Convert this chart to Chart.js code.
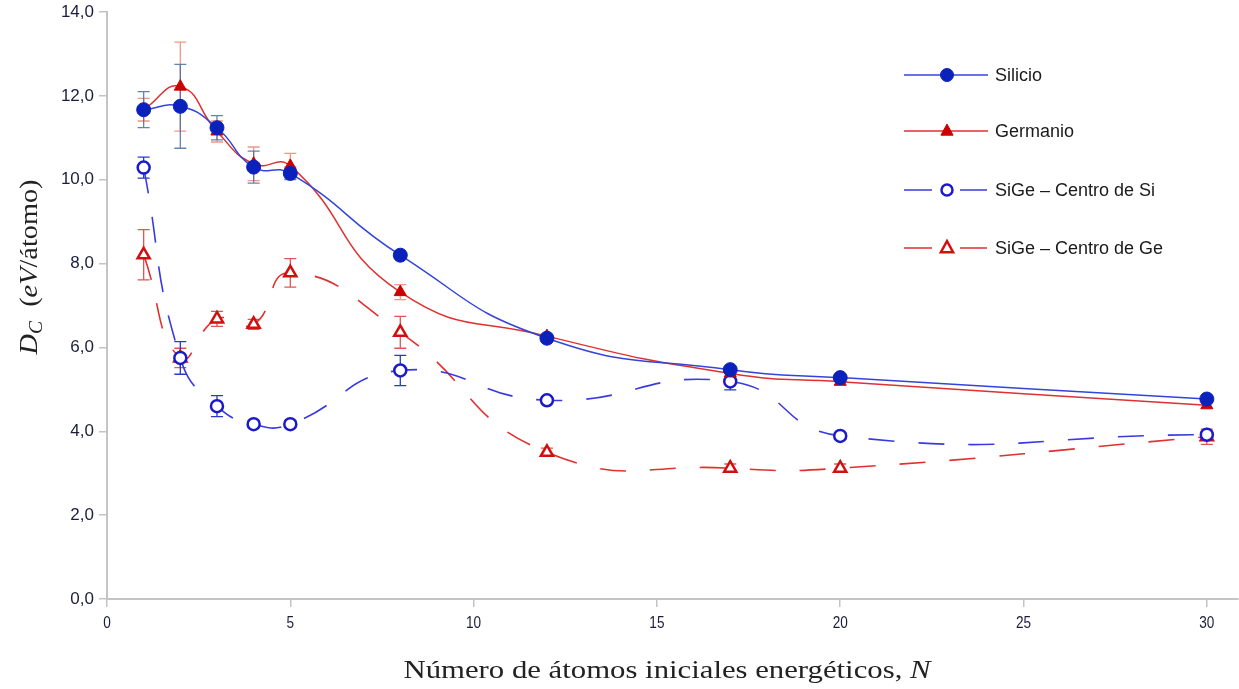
<!DOCTYPE html>
<html>
<head>
<meta charset="utf-8">
<script src="https://cdn.jsdelivr.net/npm/chart.js@4"></script>
<style>
  html, body { margin: 0; padding: 0; background: #fff; }
  #wrap { width: 1239px; height: 689px; position: relative; }
</style>
</head>
<body>
<div id="wrap"><canvas id="dcChart"></canvas></div>
<script>
// Número de átomos iniciales energéticos
const nAtoms = [1, 2, 3, 4, 5, 8, 12, 17, 20, 30];

// D_C (eV/átomo) por serie
const silicio   = [11.67, 11.75, 11.24, 10.30, 10.15, 8.20, 6.22, 5.47, 5.28, 4.77];
const germanio  = [11.67, 12.22, 11.15, 10.38, 10.33, 7.32, 6.27, 5.38, 5.18, 4.62];
const sigeSi    = [10.29, 5.75, 4.60, 4.17, 4.17, 5.45, 4.74, 5.19, 3.89, 3.92];
const sigeGe    = [8.21, 5.75, 6.68, 6.55, 7.78, 6.36, 3.50, 3.12, 3.12, 3.87];

// barras de error (±)
const errSilicio  = [0.43, 1.00, 0.29, 0.38, 0.15, 0, 0, 0, 0, 0];
const errGermanio = [0.27, 1.06, 0.25, 0.40, 0.30, 0.18, 0, 0, 0, 0];
const errSigeSi   = [0.25, 0.39, 0.25, 0.08, 0.08, 0.36, 0.08, 0.20, 0.08, 0.08];
const errSigeGe   = [0.60, 0.23, 0.18, 0.12, 0.34, 0.38, 0.10, 0.10, 0.10, 0.18];

const seriesLabels = ['Silicio', 'Germanio', 'SiGe \u2013 Centro de Si', 'SiGe \u2013 Centro de Ge'];

const xTicks = [0, 5, 10, 15, 20, 25, 30];
const yTicks = [0, 2, 4, 6, 8, 10, 12, 14];

const toPoints = arr => arr.map((v, i) => ({ x: nAtoms[i], y: v }));

const SANS  = "'Liberation Sans', Arial, sans-serif";
const SERIF = "'Liberation Serif', 'DejaVu Serif', serif";
const TICK_COLOR = '#1c1c3c';

const DASH = [26, 24];
const CURVE = 0.5;

const datasets = [
  {
    label: seriesLabels[0], data: toPoints(silicio), errors: errSilicio, errColor: 'rgba(70,110,165,0.85)',
    borderColor: '#3344dd', borderWidth: 1.5, tension: CURVE,
    pointStyle: 'circle', pointRadius: 7, pointBackgroundColor: '#0a22bb', pointBorderColor: '#0a22bb', pointBorderWidth: 1,
    legendDash: []
  },
  {
    label: seriesLabels[1], data: toPoints(germanio), errors: errGermanio, errColor: 'rgba(240,140,120,0.9)',
    borderColor: '#e03030', borderWidth: 1.5, tension: CURVE,
    pointStyle: 'triangle', pointRadius: 7, pointBackgroundColor: '#cc0000', pointBorderColor: '#cc0000', pointBorderWidth: 1,
    legendDash: []
  },
  {
    label: seriesLabels[2], data: toPoints(sigeSi), errors: errSigeSi, errColor: '#2a3acc',
    borderColor: '#3a3ae0', borderWidth: 1.6, borderDash: DASH, tension: CURVE,
    pointStyle: 'circle', pointRadius: 6, pointBackgroundColor: '#ffffff', pointBorderColor: '#1a1acc', pointBorderWidth: 2.5,
    legendDash: DASH
  },
  {
    label: seriesLabels[3], data: toPoints(sigeGe), errors: errSigeGe, errColor: '#e05555',
    borderColor: '#e03030', borderWidth: 1.6, borderDash: DASH, tension: CURVE,
    pointStyle: 'triangle', pointRadius: 7, pointBackgroundColor: '#ffffff', pointBorderColor: '#d01010', pointBorderWidth: 2.5,
    legendDash: DASH
  }
];

// barras de error bajo los marcadores
const errorBars = {
  id: 'errorBars',
  beforeDatasetsDraw(chart) {
    const { ctx, scales: { x, y } } = chart;
    ctx.save();
    ctx.lineWidth = 1.3;
    for (let d = chart.data.datasets.length - 1; d >= 0; d--) {
      const ds = chart.data.datasets[d];
      ctx.strokeStyle = ds.errColor;
      ds.data.forEach((p, i) => {
        const e = ds.errors[i];
        if (!e) return;
        const px = x.getPixelForValue(p.x);
        const top = y.getPixelForValue(p.y + e);
        const bot = y.getPixelForValue(p.y - e);
        ctx.beginPath();
        ctx.moveTo(px, top); ctx.lineTo(px, bot);
        ctx.moveTo(px - 6, top); ctx.lineTo(px + 6, top);
        ctx.moveTo(px - 6, bot); ctx.lineTo(px + 6, bot);
        ctx.stroke();
      });
    }
    ctx.restore();
  }
};

// etiquetas del eje x en letra estrecha
const narrowXLabels = {
  id: 'narrowXLabels',
  afterDraw(chart) {
    const { ctx, scales: { x } } = chart;
    ctx.save();
    ctx.fillStyle = TICK_COLOR;
    ctx.font = '17px ' + SANS;
    ctx.textAlign = 'center';
    ctx.textBaseline = 'top';
    xTicks.forEach(v => {
      const px = x.getPixelForValue(v);
      ctx.save();
      ctx.translate(px, 615);
      ctx.scale(0.8, 1);
      ctx.fillText(String(v), 0, 0);
      ctx.restore();
    });
    ctx.restore();
  }
};

// leyenda a la derecha
const sideLegend = {
  id: 'sideLegend',
  afterDraw(chart) {
    const { ctx } = chart;
    const rows = [75, 131, 190, 248];
    chart.data.datasets.forEach((ds, i) => {
      const yy = rows[i];
      ctx.save();
      ctx.strokeStyle = ds.borderColor;
      ctx.lineWidth = 1.6;
      ctx.beginPath();
      if (ds.legendDash.length) {
        ctx.moveTo(904, yy); ctx.lineTo(932, yy);
        ctx.moveTo(960, yy); ctx.lineTo(987, yy);
      } else {
        ctx.moveTo(904, yy); ctx.lineTo(988, yy);
      }
      ctx.stroke();
      ctx.fillStyle = ds.pointBackgroundColor;
      ctx.strokeStyle = ds.pointBorderColor;
      ctx.lineWidth = ds.pointBorderWidth;
      ctx.beginPath();
      if (ds.pointStyle === 'circle') {
        ctx.arc(947, yy, ds.legendDash.length ? 5.5 : 6.5, 0, Math.PI * 2);
      } else {
        const r = 7;
        ctx.moveTo(947, yy - r);
        ctx.lineTo(947 + r * 0.87, yy + r * 0.6);
        ctx.lineTo(947 - r * 0.87, yy + r * 0.6);
        ctx.closePath();
      }
      ctx.fill();
      ctx.stroke();
      ctx.fillStyle = '#1a1a1a';
      ctx.font = '18px ' + SANS;
      ctx.textAlign = 'left';
      ctx.textBaseline = 'middle';
      ctx.fillText(ds.label, 995, yy + 1);
      ctx.restore();
    });
  }
};

// dibuja trozos de texto seguidos, estirados hasta un ancho dado
function drawRuns(ctx, parts, cx, baseline, targetWidth) {
  let w = 0;
  parts.forEach(p => { ctx.font = p.f; w += ctx.measureText(p.t).width; });
  const sx = targetWidth / w;
  ctx.save();
  ctx.translate(cx - targetWidth / 2, baseline);
  ctx.scale(sx, 1);
  let px = 0;
  parts.forEach(p => {
    ctx.font = p.f;
    ctx.fillText(p.t, px, p.dy || 0);
    px += ctx.measureText(p.t).width;
  });
  ctx.restore();
}

// títulos de los ejes (con cursivas y subíndice)
const axisTitles = {
  id: 'axisTitles',
  afterDraw(chart) {
    const { ctx } = chart;
    ctx.save();
    ctx.fillStyle = '#222';
    ctx.textBaseline = 'alphabetic';
    ctx.textAlign = 'left';

    const fs = 26;
    drawRuns(ctx, [
      { t: 'Número de átomos iniciales energéticos, ', f: fs + 'px ' + SERIF },
      { t: 'N', f: 'italic ' + fs + 'px ' + SERIF }
    ], 667, 678, 527);

    ctx.translate(37, 267);
    ctx.rotate(-Math.PI / 2);
    drawRuns(ctx, [
      { t: 'D', f: 'italic ' + fs + 'px ' + SERIF },
      { t: 'C', f: 'italic 18px ' + SERIF, dy: 5 },
      { t: '  (', f: fs + 'px ' + SERIF },
      { t: 'eV', f: 'italic ' + fs + 'px ' + SERIF },
      { t: '/átomo)', f: fs + 'px ' + SERIF }
    ], 0, 0, 175);
    ctx.restore();
  }
};

new Chart(document.getElementById('dcChart'), {
  type: 'line',
  data: { datasets },
  options: {
    responsive: true,
    maintainAspectRatio: false,
    animation: false,
    layout: { autoPadding: false, padding: { top: 12, right: 1, left: 0, bottom: 0 } },
    plugins: {
      legend: { display: false },
      tooltip: { enabled: false }
    },
    scales: {
      x: {
        type: 'linear',
        min: 0,
        max: 30.85,
        afterBuildTicks(scale) { scale.ticks = xTicks.map(v => ({ value: v })); },
        afterFit(scale) {
          scale.height = 90;
          scale.paddingLeft = 0;
          scale.paddingRight = 0;
        },
        border: { color: '#c4c4c4', width: 2 },
        grid: { drawOnChartArea: false, drawTicks: true, tickLength: 8, color: '#c4c4c4', lineWidth: 1.5 },
        ticks: { display: false }
      },
      y: {
        min: 0,
        max: 14,
        afterBuildTicks(scale) { scale.ticks = yTicks.map(v => ({ value: v })); },
        afterFit(scale) {
          scale.width = 107;
          scale.paddingTop = 0;
          scale.paddingBottom = 0;
        },
        border: { color: '#c4c4c4', width: 2 },
        grid: { drawOnChartArea: false, drawTicks: true, tickLength: 8, color: '#c4c4c4', lineWidth: 1.5 },
        ticks: {
          padding: 5,
          color: TICK_COLOR,
          font: { family: SANS, size: 17 },
          callback: v => v.toFixed(1).replace('.', ',')
        }
      }
    }
  },
  plugins: [errorBars, narrowXLabels, sideLegend, axisTitles]
});
</script>
</body>
</html>
